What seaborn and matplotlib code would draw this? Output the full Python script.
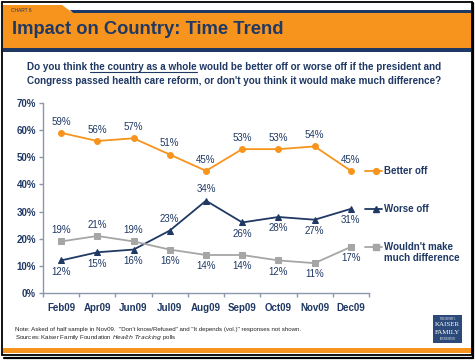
import matplotlib
matplotlib.use("Agg")
import matplotlib.pyplot as plt
import seaborn as sns
import pandas as pd
from matplotlib.patches import Polygon, Rectangle
from matplotlib.lines import Line2D

# ---- data ----
months = ["Feb09", "Apr09", "Jun09", "Jul09", "Aug09", "Sep09", "Oct09", "Nov09", "Dec09"]
better_off = [59, 56, 57, 51, 45, 53, 53, 54, 45]
worse_off = [12, 15, 16, 23, 34, 26, 28, 27, 31]
no_difference = [19, 21, 19, 16, 14, 14, 12, 11, 17]
series_names = ["Better off", "Worse off", "Wouldn't make\nmuch difference"]
y_ticks = [0, 10, 20, 30, 40, 50, 60, 70]

# label placement (a = above, b = below)
place_better = ["a"] * 9
place_worse = ["b", "b", "b", "a", "a", "b", "b", "b", "b"]
place_nodiff = ["a", "a", "a", "b", "b", "b", "b", "b", "b"]

ORANGE = "#F7941D"
NAVY = "#1F3864"
GRAY = "#A6A6A6"
AXIS = "#8A97AD"

sns.set_style("white")
plt.rcParams["font.family"] = ["Liberation Sans", "DejaVu Sans"]

W, H = 475, 360
fig = plt.figure(figsize=(4.75, 3.6), dpi=100)
fig.patch.set_facecolor("white")


def fx(px):
    return px / W


def fy(py):
    return 1 - py / H


# ---- header band ----
fig.patches.append(Polygon([(fx(3), fy(5)), (fx(62), fy(5)), (fx(73), fy(13)), (fx(471), fy(13)),
                            (fx(471), fy(48)), (fx(3), fy(48))], closed=True,
                           transform=fig.transFigure, facecolor=ORANGE, edgecolor="none", zorder=0))
fig.patches.append(Polygon([(fx(70), fy(10)), (fx(471), fy(10)), (fx(471), fy(13)), (fx(73), fy(13))],
                           closed=True, transform=fig.transFigure, facecolor=NAVY, edgecolor="none", zorder=1))
fig.patches.append(Rectangle((fx(3), fy(52)), fx(468), 4 / H, transform=fig.transFigure,
                             facecolor=NAVY, edgecolor="none", zorder=1))
fig.text(fx(11), fy(10), "CHART 6", fontsize=3.5, color=NAVY, va="center", ha="left")
fig.text(fx(12), fy(30), "Impact on Country: Time Trend", fontsize=13.2, fontweight="bold",
         color=NAVY, va="center", ha="left")

# bottom orange stripe
fig.patches.append(Rectangle((fx(3), fy(353)), fx(468), 5 / H, transform=fig.transFigure,
                             facecolor=ORANGE, edgecolor="none", zorder=1))
# frame
fig.patches.append(Rectangle((fx(1.5), fy(355)), fx(470), 353.5 / H, transform=fig.transFigure,
                             facecolor="none", edgecolor="black", lw=1.3, zorder=5))
fig.lines.append(Line2D([fx(473), fx(473)], [fy(3), fy(358)], transform=fig.transFigure,
                        color="black", lw=1.6, zorder=5))
fig.lines.append(Line2D([fx(4), fx(473)], [fy(357.5), fy(357.5)], transform=fig.transFigure,
                        color="black", lw=1.6, zorder=5))

# ---- question ----
q1a = "Do you think "
q1b = "the country as a whole"
q1c = " would be better off or worse off if the president and"
q2 = "Congress passed health care reform, or don't you think it would make much difference?"
qkw = dict(fontsize=7.1, fontweight="bold", color=NAVY, va="center", ha="left")
qx = fx(27)
line1 = fig.text(qx, fy(67), q1a + q1b + q1c, **qkw)
fig.text(qx, fy(81), q2, **qkw)
renderer = fig.canvas.get_renderer()
tmp_a = fig.text(qx, fy(67), q1a, **qkw)
tmp_ab = fig.text(qx, fy(67), q1a + q1b, **qkw)
ea = tmp_a.get_window_extent(renderer)
eab = tmp_ab.get_window_extent(renderer)
tmp_a.remove()
tmp_ab.remove()
x_start = ea.x1 / fig.bbox.width
x_end = eab.x1 / fig.bbox.width
fig.lines.append(Line2D([x_start, x_end], [fy(72.3), fy(72.3)], transform=fig.transFigure,
                        color=NAVY, lw=0.8))

# ---- main axes ----
ax = fig.add_axes([fx(43), fy(293), fx(369 - 43), (293 - 103) / H])
idx = list(range(len(months)))

styles = [
    (better_off, ORANGE, "o", 4.2, place_better),
    (worse_off, NAVY, "^", 4.5, place_worse),
    (no_difference, GRAY, "s", 4.5, place_nodiff),
]

for (vals, col, mk, ms, places), name in zip(styles, series_names):
    df = pd.DataFrame({"x": idx, "y": vals})
    sns.lineplot(data=df, x="x", y="y", ax=ax, color=col, marker=mk, markersize=ms,
                 markeredgecolor=col, linewidth=1.3, sort=False, legend=False)
    for xi, v, p in zip(idx, vals, places):
        if p == "a":
            ax.annotate(f"{v}%", (xi, v), xytext=(0, 4.5), textcoords="offset points",
                        ha="center", va="bottom", fontsize=7, color=NAVY)
        else:
            ax.annotate(f"{v}%", (xi, v), xytext=(0, -4.5), textcoords="offset points",
                        ha="center", va="top", fontsize=7, color=NAVY)
    # legend entry at the last point
    last = vals[-1]
    n = len(vals)
    ax.plot([n - 1 + 0.39, n - 1 + 0.69, n - 1 + 0.86], [last] * 3, color=col, lw=1.3,
            marker=mk, markersize=ms, markevery=[1], markeredgecolor=col, clip_on=False)
    ax.annotate(name, (n - 1 + 0.91, last), xytext=(0, 3.5), textcoords="offset points",
                ha="left", va="top", fontsize=7, fontweight="bold", color=NAVY,
                annotation_clip=False, linespacing=1.15)

ax.set_xlim(-0.5, len(months) - 0.5)
ax.set_ylim(0, 70)
ax.set_yticks(y_ticks)
ax.set_yticklabels([f"{t}%" for t in y_ticks])
ax.set_xticks(idx)
ax.set_xticklabels(months)
ax.set_xticks([i + 0.5 for i in range(-1, len(months))], minor=True)
ax.set_xlabel("")
ax.set_ylabel("")
for s in ["top", "right"]:
    ax.spines[s].set_visible(False)
for s in ["left", "bottom"]:
    ax.spines[s].set_color(AXIS)
    ax.spines[s].set_linewidth(1.0)
ax.tick_params(axis="y", which="major", left=True, length=3, width=1.0, color=AXIS,
               labelsize=7, labelcolor=NAVY, pad=2)
ax.tick_params(axis="x", which="major", bottom=False, length=0, labelsize=7, labelcolor=NAVY, pad=7)
ax.tick_params(axis="x", which="minor", bottom=True, length=3, width=1.0, color=AXIS)
for lbl in ax.get_yticklabels() + ax.get_xticklabels():
    lbl.set_fontweight("bold")
ax.set_facecolor("none")
ax.patch.set_alpha(0)

# ---- notes ----
fig.text(fx(15), fy(329), "Note: Asked of half sample in Nov09.  \"Don't know/Refused\" and \"It depends (vol.)\" responses not shown.",
         fontsize=4.4, color="#222222", va="center", ha="left")
fig.text(fx(15), fy(337), "Sources: Kaiser Family Foundation $\\it{Health\\ Tracking}$ polls",
         fontsize=4.4, color="#222222", va="center", ha="left")

# ---- logo ----
fig.patches.append(Rectangle((fx(433), fy(343)), fx(29), 28 / H, transform=fig.transFigure,
                             facecolor="#2B4A7A", edgecolor="none", zorder=2))
lkw = dict(color="white", ha="center", va="center", family=["Liberation Serif", "DejaVu Serif"], zorder=3)
fig.text(fx(447.5), fy(318.5), "THE HENRY J.", fontsize=1.8, **lkw)
fig.text(fx(447.5), fy(324.5), "KAISER", fontsize=5, **lkw)
fig.text(fx(447.5), fy(332.5), "FAMILY", fontsize=5, **lkw)
fig.text(fx(447.5), fy(339), "FOUNDATION", fontsize=1.8, **lkw)

fig.savefig("out.png", dpi=100)
